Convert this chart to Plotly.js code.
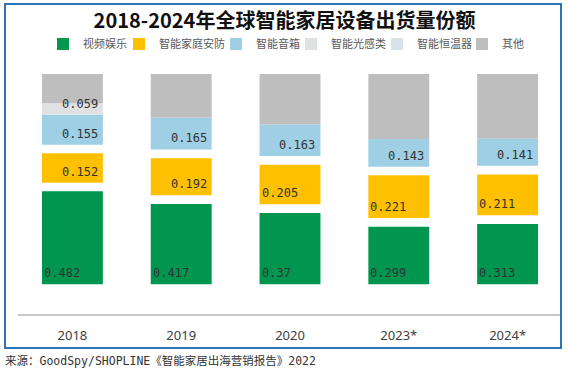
<!DOCTYPE html>
<html><head><meta charset="utf-8">
<script src="https://cdn.plot.ly/plotly-3.0.1.min.js"></script>
<style>html,body{margin:0;padding:0;background:#fff;}#chart{width:569px;height:373px;}</style>
</head><body><div id="chart"></div>
<script>
// ---- data ----
const years = ['2018', '2019', '2020', '2023*', '2024*'];
const seriesNames = ['视频娱乐', '智能家庭安防', '智能音箱', '智能光感类', '智能恒温器', '其他'];
const videoEntertainment = [0.482, 0.417, 0.37, 0.299, 0.313];
const homeSecurity = [0.152, 0.192, 0.205, 0.221, 0.211];
const smartSpeaker = [0.155, 0.165, 0.163, 0.143, 0.141];
const smartLighting = [0.059, null, null, null, null];
const smartThermostat = [null, null, null, null, null];
const otherDevices = [0.152, 0.226, 0.262, 0.337, 0.335];
const titleText = '2018-2024年全球智能家居设备出货量份额';
const sourceText = '来源：GoodSpy/SHOPLINE《智能家居出海营销报告》2022';

// ---- style / layout ----
const W = 569, H = 373;
const GAP = 0.045;
const BARGAP = 0.44;
const colors = ['#00964f', '#ffc000', '#9ecfe4', '#e0e1e3', '#d6e3e9', '#bebebe'];
const legendWidths = [31, 52, 30, 41, 40, 22];
const gapsBefore = [0, GAP, GAP, 0, 0, 0];
const labelAlign = [
  ['L', 'L', 'L', 'L', 'L'],
  ['R', 'R', 'L', 'L', 'L'],
  ['R', 'R', 'R', 'R', 'R'],
  ['R', 'R', 'R', 'R', 'R']
];

const series = [videoEntertainment, homeSecurity, smartSpeaker, smartLighting, smartThermostat, otherDevices];
const bases = [];
let running = years.map(() => 0);
series.forEach((vals, s) => {
  const b = running.map(r => r + gapsBefore[s]);
  bases.push(b);
  running = b.map((bb, i) => bb + (vals[i] || 0));
});

const traces = series.map((vals, s) => ({
  type: 'bar',
  name: seriesNames[s],
  x: years,
  y: vals,
  base: bases[s],
  marker: { color: colors[s], line: { width: 0 } },
  legendwidth: legendWidths[s],
  hoverinfo: 'skip'
}));

const half = (1 - BARGAP) / 2;
const annotations = [];
labelAlign.forEach((row, s) => {
  series[s].forEach((v, i) => {
    if (v == null) return;
    const left = row[i] === 'L';
    annotations.push({
      xref: 'x', yref: 'y',
      x: i + (left ? -half : half),
      y: bases[s][i],
      xanchor: left ? 'left' : 'right',
      yanchor: 'bottom',
      xshift: left ? 0 : -3,
      yshift: 2,
      text: String(v),
      showarrow: false,
      font: { family: 'DejaVu Sans Mono, monospace', size: 12, color: '#333333' }
    });
  });
});
annotations.push({
  xref: 'paper', yref: 'paper',
  x: 3 / W, y: 1 - 361 / H,
  xanchor: 'left', yanchor: 'middle',
  text: sourceText, showarrow: false,
  font: { family: 'DejaVu Sans Mono, Noto Sans CJK SC', size: 11.5, color: '#333333' }
});

const layout = {
  width: W, height: H,
  margin: { l: 0, r: 0, t: 0, b: 0 },
  paper_bgcolor: '#ffffff',
  plot_bgcolor: 'rgba(0,0,0,0)',
  barmode: 'overlay',
  bargap: BARGAP,
  title: {
    text: '<b>' + titleText + '</b>',
    x: 0.5, xanchor: 'center',
    y: 1 - 21 / H, yanchor: 'middle', yref: 'container',
    font: { family: 'Noto Sans CJK SC', size: 20, color: '#111111' }
  },
  showlegend: true,
  legend: {
    orientation: 'h', traceorder: 'normal',
    x: 43 / W, xanchor: 'left',
    y: 1 - 44 / H, yanchor: 'middle',
    itemwidth: 30,
    bgcolor: 'rgba(0,0,0,0)',
    font: { family: 'Noto Sans CJK SC', size: 11, color: '#595959' }
  },
  xaxis: {
    type: 'category',
    domain: [18 / W, 562 / W],
    showline: true, linecolor: '#c9c9c9', linewidth: 2,
    ticks: '', showgrid: false, zeroline: false,
    ticklabelstandoff: 8,
    tickfont: { family: 'Noto Sans', size: 13, color: '#404040' },
    fixedrange: true
  },
  yaxis: {
    domain: [59 / H, 299 / H],
    range: [-0.1535, 1 + 2 * GAP],
    showticklabels: false, showgrid: false, zeroline: false, showline: false,
    fixedrange: true
  },
  shapes: [{
    type: 'rect', xref: 'paper', yref: 'paper',
    x0: 5 / W, x1: 561 / W, y0: 1 - 348 / H, y1: 1 - 4 / H,
    line: { color: '#2f74b5', width: 2 }, fillcolor: 'rgba(0,0,0,0)', layer: 'above'
  }],
  annotations: annotations
};

Plotly.newPlot('chart', traces, layout, { displayModeBar: false, staticPlot: true });
</script>
</body></html>
